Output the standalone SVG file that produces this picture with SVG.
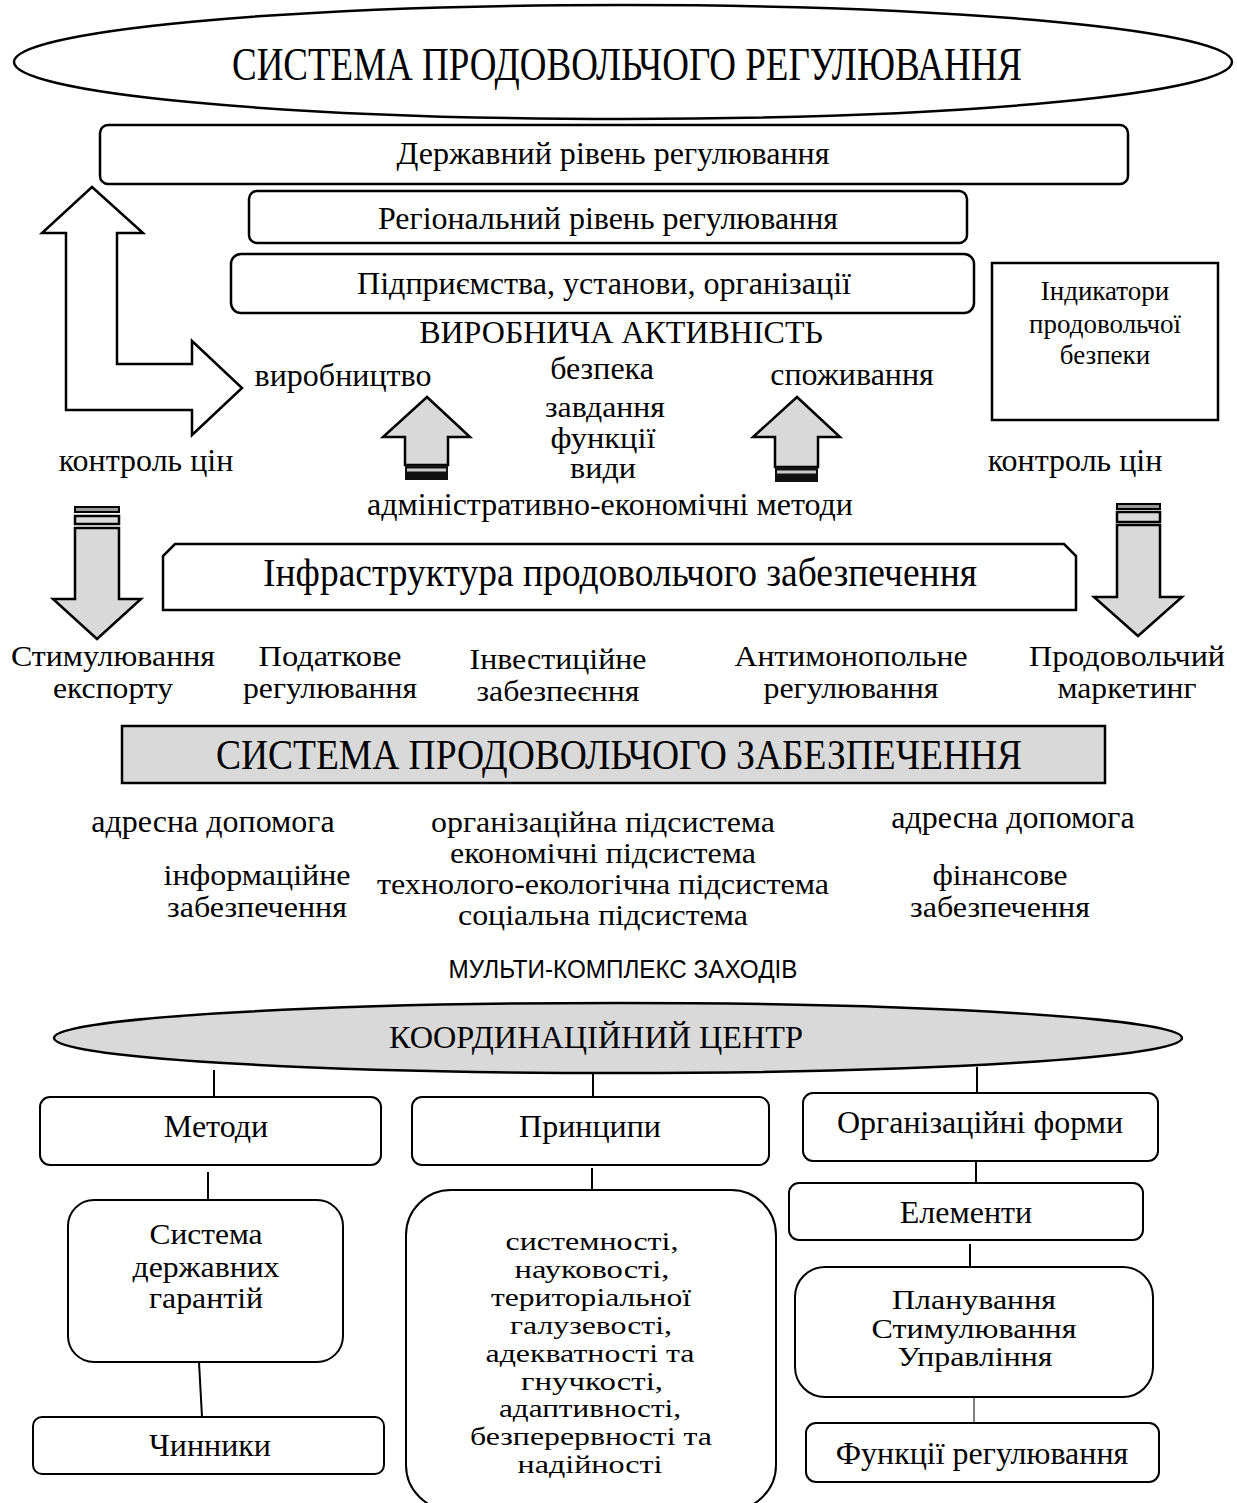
<svg xmlns="http://www.w3.org/2000/svg" width="1237" height="1503" viewBox="0 0 1237 1503">
<style>
text{font-family:"Liberation Serif","Times New Roman",serif;fill:#000;text-anchor:middle}
.t{font-size:32px}
.s{font-size:27px}
.m{font-size:29px}
.k{font-size:26px}
.n{font-size:30px}
.box{fill:#fff;stroke:#000;stroke-width:2.5}
.bx{fill:#fff;stroke:#000;stroke-width:2}
.grey{fill:#d9d9d9;stroke:#000;stroke-width:2.5}
.ln{stroke:#000;stroke-width:2;fill:none}
</style>
<rect width="1237" height="1503" fill="#fff"/>

<g id="title">
<ellipse class="box" cx="623" cy="62" rx="609" ry="57"/>
<text x="627" y="80" font-size="46" textLength="790" lengthAdjust="spacingAndGlyphs">СИСТЕМА ПРОДОВОЛЬЧОГО РЕГУЛЮВАННЯ</text>
</g>
<g id="state">
<rect class="box" x="100" y="125" width="1028" height="59" rx="8"/>
<text x="613" y="164" font-size="31" textLength="433" lengthAdjust="spacingAndGlyphs">Державний рівень регулювання</text>
</g>
<g id="regional">
<rect class="box" x="249" y="191" width="718" height="52" rx="8"/>
<text x="608" y="229" font-size="31" textLength="460" lengthAdjust="spacingAndGlyphs">Регіональний рівень регулювання</text>
</g>
<g id="enterprises">
<rect class="box" x="231" y="254" width="743" height="59" rx="10"/>
<text x="604" y="294" font-size="31" textLength="494" lengthAdjust="spacingAndGlyphs">Підприємства, установи, організації</text>
</g>
<g id="indicators">
<rect x="992" y="263" width="226" height="157" fill="#fff" stroke="#000" stroke-width="2.5"/>
<text class="s" x="1105" y="300">Індикатори</text>
<text class="s" x="1105" y="333">продовольчої</text>
<text class="s" x="1105" y="364">безпеки</text>
</g>

<g id="activity">
<text class="t" x="621" y="343">ВИРОБНИЧА АКТИВНІСТЬ</text>
<text class="t" x="343" y="386">виробництво</text>
<text class="t" x="602" y="379">безпека</text>
<text class="t" x="852" y="385">споживання</text>
<text class="m" x="605" y="417" textLength="120" lengthAdjust="spacingAndGlyphs">завдання</text>
<text class="m" x="603" y="448" textLength="105" lengthAdjust="spacingAndGlyphs">функції</text>
<text class="m" x="603" y="478" textLength="66" lengthAdjust="spacingAndGlyphs">види</text>
<text class="t" x="610" y="515">адміністративно-економічні методи</text>
<text class="t" x="146" y="471">контроль цін</text>
<text class="t" x="1075" y="471">контроль цін</text>
</g>

<g id="arrows">
<polygon points="92,187 143,233 117,233 117,364 192,364 192,341 242,388 192,435 192,410 66,410 66,233 42,233" fill="#fff" stroke="#000" stroke-width="2.5" stroke-linejoin="miter"/>
<polygon points="427,397 470,437 448,437 448,465 405,465 405,437 383,437" class="grey"/>
<rect x="405" y="465" width="43" height="15" fill="#111"/>
<rect x="407" y="468.5" width="39" height="3" fill="#ccc"/>
<polygon points="797,397 840,437 818,437 818,467 775,467 775,437 753,437" class="grey"/>
<rect x="775" y="467" width="43" height="15" fill="#111"/>
<rect x="777" y="470.5" width="39" height="3" fill="#ccc"/>
<rect x="75" y="507" width="44" height="5" fill="#999" stroke="#000" stroke-width="2"/>
<rect x="75" y="516" width="44" height="8" class="grey"/>
<polygon points="75,528 119,528 119,599 141,599 97,639 53,599 75,599" class="grey"/>
<rect x="1117" y="504" width="43" height="5" fill="#999" stroke="#000" stroke-width="2"/>
<rect x="1117" y="512" width="43" height="10" class="grey"/>
<polygon points="1117,525 1160,525 1160,597 1182,597 1138,636 1094,597 1117,597" class="grey"/>
</g>

<g id="infrastructure">
<polygon class="box" points="175,544 1064,544 1076,556 1076,610 163,610 163,556"/>
<text x="620" y="586" font-size="40" textLength="714" lengthAdjust="spacingAndGlyphs">Інфраструктура продовольчого забезпечення</text>
</g>

<g id="instruments">
<text class="n" x="113" y="666" textLength="204" lengthAdjust="spacingAndGlyphs">Стимулювання</text>
<text class="n" x="113" y="698" textLength="120" lengthAdjust="spacingAndGlyphs">експорту</text>
<text class="n" x="330" y="666" textLength="143" lengthAdjust="spacingAndGlyphs">Податкове</text>
<text class="n" x="330" y="698" textLength="174" lengthAdjust="spacingAndGlyphs">регулювання</text>
<text class="n" x="558" y="669" textLength="177" lengthAdjust="spacingAndGlyphs">Інвестиційне</text>
<text class="n" x="558" y="701" textLength="163" lengthAdjust="spacingAndGlyphs">забезпеєння</text>
<text class="n" x="851" y="666" textLength="233" lengthAdjust="spacingAndGlyphs">Антимонопольне</text>
<text class="n" x="851" y="698" textLength="175" lengthAdjust="spacingAndGlyphs">регулювання</text>
<text class="n" x="1127" y="666" textLength="196" lengthAdjust="spacingAndGlyphs">Продовольчий</text>
<text class="n" x="1127" y="698" textLength="139" lengthAdjust="spacingAndGlyphs">маркетинг</text>
</g>

<g id="supply">
<rect x="122" y="726" width="983" height="57" class="grey" stroke-width="3"/>
<text x="619" y="769" font-size="42" textLength="806" lengthAdjust="spacingAndGlyphs">СИСТЕМА ПРОДОВОЛЬЧОГО ЗАБЕЗПЕЧЕННЯ</text>
</g>

<g id="subsystems">
<text class="t" x="213" y="832">адресна допомога</text>
<text class="m" x="603" y="832" textLength="344" lengthAdjust="spacingAndGlyphs">організаційна підсистема</text>
<text class="t" x="1013" y="828">адресна допомога</text>
<text class="m" x="603" y="863" textLength="306" lengthAdjust="spacingAndGlyphs">економічні підсистема</text>
<text class="m" x="603" y="894" textLength="452" lengthAdjust="spacingAndGlyphs">технолого-екологічна підсистема</text>
<text class="m" x="603" y="925" textLength="290" lengthAdjust="spacingAndGlyphs">соціальна підсистема</text>
<text class="n" x="257" y="885" textLength="187" lengthAdjust="spacingAndGlyphs">інформаційне</text>
<text class="n" x="257" y="917" textLength="180" lengthAdjust="spacingAndGlyphs">забезпечення</text>
<text class="n" x="1000" y="885" textLength="135" lengthAdjust="spacingAndGlyphs">фінансове</text>
<text class="n" x="1000" y="917" textLength="180" lengthAdjust="spacingAndGlyphs">забезпечення</text>
<text x="623" y="978" font-size="25" style="font-family:'Liberation Sans',Arial,sans-serif" textLength="349" lengthAdjust="spacingAndGlyphs">МУЛЬТИ-КОМПЛЕКС ЗАХОДІВ</text>
</g>

<g id="coordination">
<ellipse cx="618" cy="1038" rx="564" ry="35" fill="#d9d9d9" stroke="#000" stroke-width="2.5"/>
<text x="596" y="1048" font-size="31" textLength="414" lengthAdjust="spacingAndGlyphs">КООРДИНАЦІЙНИЙ ЦЕНТР</text>
</g>

<g id="connectors">
<line class="ln" x1="214" y1="1070" x2="214" y2="1097"/>
<line class="ln" x1="593" y1="1073" x2="593" y2="1097"/>
<line class="ln" x1="977" y1="1067" x2="977" y2="1093"/>
<line class="ln" x1="208" y1="1172" x2="208" y2="1200"/>
<line class="ln" x1="199" y1="1362" x2="202" y2="1417"/>
<line class="ln" x1="592" y1="1168" x2="592" y2="1190"/>
<line class="ln" x1="976" y1="1161" x2="976" y2="1183"/>
<line class="ln" x1="970" y1="1244" x2="970" y2="1267"/>
<line x1="974" y1="1397" x2="974" y2="1423" stroke="#000" stroke-width="1"/>
</g>

<g id="methods">
<rect class="bx" x="40" y="1097" width="341" height="68" rx="10"/>
<text class="t" x="216" y="1137">Методи</text>
</g>
<g id="principles">
<rect class="bx" x="412" y="1097" width="357" height="68" rx="10"/>
<text class="t" x="590" y="1137">Принципи</text>
</g>
<g id="orgforms">
<rect class="bx" x="803" y="1093" width="355" height="68" rx="10"/>
<text class="t" x="980" y="1133">Організаційні форми</text>
</g>
<g id="guarantees">
<rect class="bx" x="68" y="1200" width="275" height="162" rx="26"/>
<text class="n" x="206" y="1244" textLength="113" lengthAdjust="spacingAndGlyphs">Система</text>
<text class="n" x="206" y="1277" textLength="147" lengthAdjust="spacingAndGlyphs">державних</text>
<text class="n" x="206" y="1308" textLength="114" lengthAdjust="spacingAndGlyphs">гарантій</text>
</g>
<g id="factors">
<rect class="bx" x="33" y="1417" width="351" height="57" rx="9"/>
<text class="t" x="210" y="1456">Чинники</text>
</g>
<g id="principles-list">
<rect class="bx" x="406" y="1190" width="370" height="320" rx="45"/>
<text class="k" x="592" y="1250" textLength="173" lengthAdjust="spacingAndGlyphs">системності,</text>
<text class="k" x="592" y="1278" textLength="155" lengthAdjust="spacingAndGlyphs">науковості,</text>
<text class="k" x="591" y="1306" textLength="200" lengthAdjust="spacingAndGlyphs">територіальної</text>
<text class="k" x="591" y="1334" textLength="162" lengthAdjust="spacingAndGlyphs">галузевості,</text>
<text class="k" x="590" y="1362" textLength="209" lengthAdjust="spacingAndGlyphs">адекватності та</text>
<text class="k" x="592" y="1390" textLength="142" lengthAdjust="spacingAndGlyphs">гнучкості,</text>
<text class="k" x="590" y="1417" textLength="182" lengthAdjust="spacingAndGlyphs">адаптивності,</text>
<text class="k" x="591" y="1445" textLength="242" lengthAdjust="spacingAndGlyphs">безперервності та</text>
<text class="k" x="590" y="1473" textLength="145" lengthAdjust="spacingAndGlyphs">надійності</text>
</g>
<g id="elements">
<rect class="bx" x="789" y="1183" width="354" height="57" rx="10"/>
<text class="t" x="966" y="1223">Елементи</text>
</g>
<g id="planning">
<rect class="bx" x="795" y="1267" width="358" height="130" rx="30"/>
<text x="974" y="1309" font-size="28" textLength="164" lengthAdjust="spacingAndGlyphs">Планування</text>
<text x="974" y="1338" font-size="28" textLength="205" lengthAdjust="spacingAndGlyphs">Стимулювання</text>
<text x="975" y="1366" font-size="28" textLength="155" lengthAdjust="spacingAndGlyphs">Управління</text>
</g>
<g id="functions">
<rect class="bx" x="806" y="1423" width="353" height="59" rx="10"/>
<text class="t" x="982" y="1464">Функції регулювання</text>
</g>
</svg>
